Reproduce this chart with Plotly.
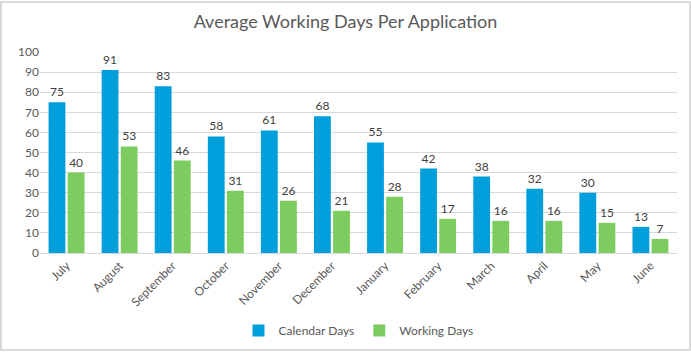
import plotly.graph_objects as go

months = ["July", "August", "September", "October", "November", "December",
          "January", "February", "March", "April", "May", "June"]
calendar_days = [75, 91, 83, 58, 61, 68, 55, 42, 38, 32, 30, 13]
working_days = [40, 53, 46, 31, 26, 21, 28, 17, 16, 16, 15, 7]
y_ticks = [0, 10, 20, 30, 40, 50, 60, 70, 80, 90, 100]

W, H = 691, 357
L, R, T, B = 40, 14, 52, 100
pw, ph = W - L - R, H - T - B

font_family = "Lato, 'Open Sans', sans-serif"

fig = go.Figure()
fig.add_trace(go.Bar(
    name="Calendar Days", x=months, y=calendar_days,
    marker=dict(color="#009fdb", line=dict(width=0)),
    text=calendar_days, textposition="outside", cliponaxis=False,
    textfont=dict(size=12, color="#404040", family=font_family),
))
fig.add_trace(go.Bar(
    name="Working Days", x=months, y=working_days,
    marker=dict(color="#7dcc5f", line=dict(width=0)),
    text=working_days, textposition="outside", cliponaxis=False,
    textfont=dict(size=12, color="#404040", family=font_family),
))

fig.update_layout(
    width=W, height=H,
    margin=dict(l=L, r=R, t=T, b=B),
    paper_bgcolor="white", plot_bgcolor="white",
    barmode="group", bargap=0.28, bargroupgap=0.12,
    title=dict(text="Average Working Days Per Application", x=0.5, xanchor="center",
               y=1 - 22 / H, yanchor="middle",
               font=dict(size=18, color="#595959", family=font_family)),
    font=dict(family=font_family, color="#595959", size=12),
    xaxis=dict(tickangle=-45, showgrid=False, showline=True, linecolor="#d9d9d9",
               ticks="", tickfont=dict(size=12, color="#595959")),
    yaxis=dict(range=[0, 100], tickvals=y_ticks, showgrid=True, gridcolor="#d9d9d9",
               zeroline=False, showline=False, ticks="",
               tickfont=dict(size=12, color="#595959")),
    legend=dict(orientation="h", x=0.5, xanchor="center", y=-(336 - 257) / ph,
                yanchor="middle", font=dict(size=12, color="#595959"),
                itemwidth=30),
    showlegend=True,
    shapes=[dict(type="rect", xref="paper", yref="paper",
                 x0=-(L - 1) / pw, x1=1 + (R - 1) / pw,
                 y0=-(B - 1) / ph, y1=1 + (T - 1) / ph,
                 line=dict(color="#d9d9d9", width=2), fillcolor="rgba(0,0,0,0)")],
)

fig.write_html("out.html", config={"displayModeBar": False},
               post_script="document.body.style.margin='0';document.body.style.overflow='hidden';")
